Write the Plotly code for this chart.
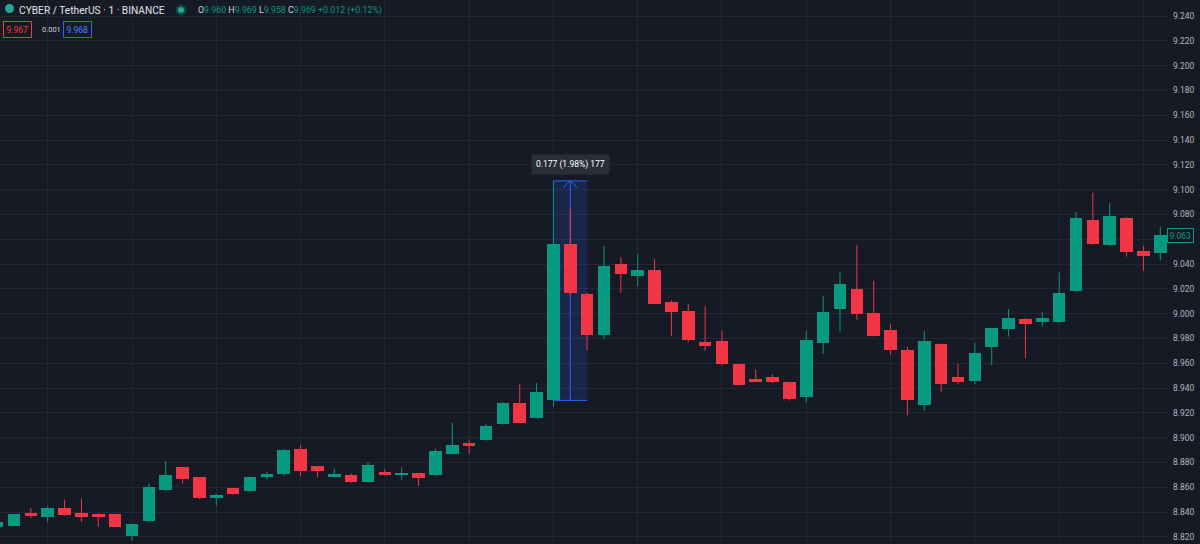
import plotly.graph_objects as go

# ---------------- data ----------------
candle_index = list(range(70))
opens = [8.828, 8.829, 8.839, 8.836, 8.8435, 8.839, 8.838, 8.838, 8.821, 8.8325,
         8.858, 8.876, 8.868, 8.851, 8.859, 8.857, 8.8685, 8.8706, 8.891, 8.877,
         8.8685, 8.870, 8.864, 8.872, 8.8703, 8.8715, 8.8695, 8.887, 8.896, 8.898,
         8.911, 8.928, 8.916, 8.930, 9.056, 9.016, 8.983, 9.040, 9.030, 9.0355,
         9.009, 9.002, 8.977, 8.978, 8.9595, 8.9475, 8.9485, 8.945, 8.933, 8.976,
         9.004, 9.0195, 9.0005, 8.987, 8.9705, 8.926, 8.9755, 8.949, 8.946, 8.973,
         8.9875, 8.996, 8.993, 8.993, 9.018, 9.0755, 9.055, 9.0775, 9.0505, 9.049]
highs = [8.8325, 8.8385, 8.843, 8.8445, 8.850, 8.851, 8.839, 8.838, 8.8305, 8.863,
         8.881, 8.8765, 8.868, 8.8545, 8.859, 8.8685, 8.8723, 8.8908, 8.894, 8.877,
         8.875, 8.871, 8.880, 8.8744, 8.876, 8.8715, 8.891, 8.912, 8.8985, 8.911,
         8.9285, 8.943, 8.944, 9.107, 9.085, 9.017, 9.0545, 9.0455, 9.048, 9.044,
         9.0105, 9.0077, 9.006, 8.986, 8.9595, 8.955, 8.951, 8.945, 8.986, 9.014,
         9.0335, 9.0555, 9.0265, 8.9915, 8.973, 8.986, 8.976, 8.9595, 8.9765, 8.9885,
         9.0037, 8.9965, 9.0015, 9.033, 9.082, 9.0975, 9.089, 9.078, 9.0545, 9.070]
lows = [8.8275, 8.829, 8.835, 8.832, 8.837, 8.832, 8.828, 8.8275, 8.817, 8.832,
        8.857, 8.863, 8.8505, 8.845, 8.854, 8.856, 8.8664, 8.869, 8.869, 8.868,
        8.868, 8.8635, 8.8638, 8.8705, 8.866, 8.861, 8.869, 8.8865, 8.887, 8.8975,
        8.9105, 8.9115, 8.9155, 8.925, 9.015, 8.9705, 8.9795, 9.017, 9.022, 9.0075,
        8.982, 8.977, 8.970, 8.9585, 8.942, 8.9448, 8.944, 8.9298, 8.9287, 8.9675,
        8.9855, 8.995, 8.9815, 8.967, 8.918, 8.922, 8.937, 8.943, 8.943, 8.9585,
        8.9815, 8.964, 8.9895, 8.9925, 9.0175, 9.0555, 9.0545, 9.046, 9.0345, 9.043]
closes = [8.8317, 8.838, 8.837, 8.843, 8.8373, 8.836, 8.836, 8.828, 8.830, 8.860,
          8.870, 8.867, 8.851, 8.854, 8.8545, 8.868, 8.871, 8.890, 8.873, 8.873,
          8.871, 8.864, 8.878, 8.8706, 8.871, 8.8675, 8.889, 8.894, 8.8935, 8.9095,
          8.928, 8.912, 8.937, 9.056, 9.0165, 8.983, 9.0385, 9.032, 9.0355, 9.008,
          9.001, 8.979, 8.9735, 8.959, 8.9425, 8.945, 8.9445, 8.931, 8.979, 9.001,
          9.024, 9.000, 8.982, 8.971, 8.930, 8.978, 8.9435, 8.9445, 8.9685, 8.988,
          8.9965, 8.992, 8.9965, 9.017, 9.0775, 9.056, 9.0785, 9.050, 9.0467, 9.063]

price_ticks = [8.82, 8.84, 8.86, 8.88, 8.90, 8.92, 8.94, 8.96, 8.98, 9.00, 9.02,
               9.04, 9.06, 9.08, 9.10, 9.12, 9.14, 9.16, 9.18, 9.20, 9.22, 9.24]
time_grid_index = [3, 8, 13, 18, 23, 28, 33, 38, 43, 48, 53, 58, 63, 68]

symbol_title = "CYBER / TetherUS · 1 · BINANCE"
legend_labels = ["O", "H", "L", "C"]
legend_values = ["9.960", "9.969", "9.958", "9.969"]
legend_change = "+0.012 (+0.12%)"
bid_price = "9.967"
spread_text = "0.001"
ask_price = "9.968"

measure_from_index = 33
measure_to_index = 35

# ---------------- styling ----------------
BG = "#161a25"
GRID = "#232735"
UP = "#089981"
DOWN = "#f23645"
BLUE = "#2962ff"
TEXT = "#d1d4dc"
AXIS_TEXT = "#b2b5be"
FONT = "Roboto"

W, H = 1200, 544
R_MARGIN = 32
PW = W - R_MARGIN


def px(x):
    return x / PW


def py(y):
    return 1 - y / H


fig = go.Figure()

for is_up, color in ((True, UP), (False, DOWN)):
    idx = [i for i in candle_index if (closes[i] >= opens[i]) == is_up]
    wx, wy = [], []
    for i in idx:
        wx += [candle_index[i], candle_index[i], None]
        wy += [lows[i], highs[i], None]
    fig.add_trace(go.Scatter(x=wx, y=wy, mode="lines",
                             line=dict(color=color, width=1),
                             hoverinfo="skip", showlegend=False))
    fig.add_trace(go.Bar(
        x=[candle_index[i] for i in idx],
        y=[max(abs(closes[i] - opens[i]), 0.0006) for i in idx],
        base=[min(opens[i], closes[i]) for i in idx],
        width=0.75, marker=dict(color=color, line=dict(width=0)),
        showlegend=False, hoverinfo="skip"))

# ---------------- price range measurement ----------------
m_x0 = candle_index[measure_from_index]
m_x1 = candle_index[measure_to_index]
m_xc = (m_x0 + m_x1) / 2
m_lo = opens[measure_from_index]
m_hi = highs[measure_from_index]
m_diff = m_hi - m_lo
m_pct = m_diff / m_lo * 100
m_ticks = round(m_diff * 1000)

shapes = [
    dict(type="rect", xref="x", yref="y", x0=m_x0, x1=m_x1, y0=m_lo, y1=m_hi,
         fillcolor="rgba(41,98,255,0.17)", line=dict(width=0), layer="between"),
    dict(type="line", xref="x", yref="y", x0=m_x0, x1=m_x1, y0=m_hi, y1=m_hi,
         line=dict(color=BLUE, width=1), layer="between"),
    dict(type="line", xref="x", yref="y", x0=m_x0, x1=m_x1, y0=m_lo, y1=m_lo,
         line=dict(color=BLUE, width=1), layer="between"),
    dict(type="line", xref="x", yref="y", x0=m_xc, x1=m_xc, y0=m_lo, y1=m_hi,
         line=dict(color=BLUE, width=1), layer="between"),
    dict(type="path", xref="x", yref="y",
         path=f"M {m_xc - 0.42} {m_hi - 0.0055} L {m_xc} {m_hi} L {m_xc + 0.42} {m_hi - 0.0055}",
         line=dict(color=BLUE, width=1), layer="above"),
    # status dot in header
    dict(type="circle", xref="paper", yref="paper", x0=px(175.5), x1=px(186.5),
         y0=py(15.5), y1=py(4.5), fillcolor="rgba(8,153,129,0.35)", line=dict(width=0)),
    dict(type="circle", xref="paper", yref="paper", x0=px(178), x1=px(184),
         y0=py(13), y1=py(7), fillcolor="#22ab94", line=dict(width=0)),
    # symbol logo
    dict(type="circle", xref="paper", yref="paper", x0=px(5), x1=px(14),
         y0=py(13), y1=py(4), fillcolor="#26a69a", line=dict(width=0)),
]

annotations = [
    dict(xref="x", yref="y", x=m_xc, y=m_hi, yanchor="bottom", yshift=6,
         text=f"{m_diff:.3f} ({m_pct:.2f}%) {m_ticks}", showarrow=False,
         font=dict(family=FONT, size=8.5, color="#ffffff"),
         bgcolor="#2a2e39", borderpad=4),
    # last price label on the price scale
    dict(xref="paper", yref="y", x=1, xshift=-1, xanchor="left", y=closes[-1],
         text=f"{closes[-1]:.3f}", showarrow=False,
         font=dict(family=FONT, size=8.5, color=UP),
         bgcolor=BG, bordercolor=UP, borderwidth=1, borderpad=1.5),
    # header
    dict(xref="paper", yref="paper", x=px(17), y=py(10), xanchor="left", yanchor="middle",
         text=symbol_title, showarrow=False,
         font=dict(family=FONT, size=10.2, color="#e0e3eb")),
    dict(xref="paper", yref="paper", x=px(196), y=py(10), xanchor="left", yanchor="middle",
         text=" ".join(f"{l}<span style='color:{UP}'>{v}</span>" for l, v in zip(legend_labels, legend_values))
              + f" <span style='color:{UP}'>{legend_change}</span>",
         showarrow=False, font=dict(family=FONT, size=8.8, color=TEXT)),
    dict(xref="paper", yref="paper", x=px(3), y=py(29.5), xanchor="left", yanchor="middle",
         text=bid_price, showarrow=False, font=dict(family=FONT, size=8.5, color=DOWN),
         bordercolor=DOWN, borderwidth=1, borderpad=2.5),
    dict(xref="paper", yref="paper", x=px(40), y=py(29.5), xanchor="left", yanchor="middle",
         text=spread_text, showarrow=False, font=dict(family=FONT, size=7.5, color=TEXT)),
    dict(xref="paper", yref="paper", x=px(63), y=py(29.5), xanchor="left", yanchor="middle",
         text=ask_price, showarrow=False, font=dict(family=FONT, size=8.5, color="#4c7dff"),
         bordercolor=BLUE, borderwidth=1, borderpad=2.5),
]

y_top = 9.240 + 16 / 1240
y_bot = 9.240 - (H - 16) / 1240
x_left = 2.86 / 16.857
x_right = (PW + 2.86) / 16.857

# labels hidden behind the last-price badge, as on the price scale
tick_text = ["" if abs(v - closes[-1]) < 0.01 else f"{v:.3f}" for v in price_ticks]

fig.update_layout(
    width=W, height=H,
    margin=dict(l=0, r=R_MARGIN, t=0, b=0),
    paper_bgcolor=BG, plot_bgcolor=BG,
    barmode="overlay", bargap=0,
    showlegend=False,
    shapes=shapes, annotations=annotations,
    xaxis=dict(range=[x_left, x_right], tickvals=time_grid_index, showticklabels=False,
               showgrid=True, gridcolor=GRID, gridwidth=1, zeroline=False,
               showline=False, ticks="", fixedrange=True),
    yaxis=dict(range=[y_bot, y_top], side="right", tickvals=price_ticks,
               ticktext=tick_text,
               showgrid=True, gridcolor=GRID, gridwidth=1, zeroline=False,
               showline=False, ticks="", ticklabelstandoff=4,
               tickfont=dict(family=FONT, size=8.5, color=AXIS_TEXT)),
)

fig.write_html("out.html", config={"displayModeBar": False},
               post_script="document.body.style.margin='0';document.body.style.background='#161a25';")
